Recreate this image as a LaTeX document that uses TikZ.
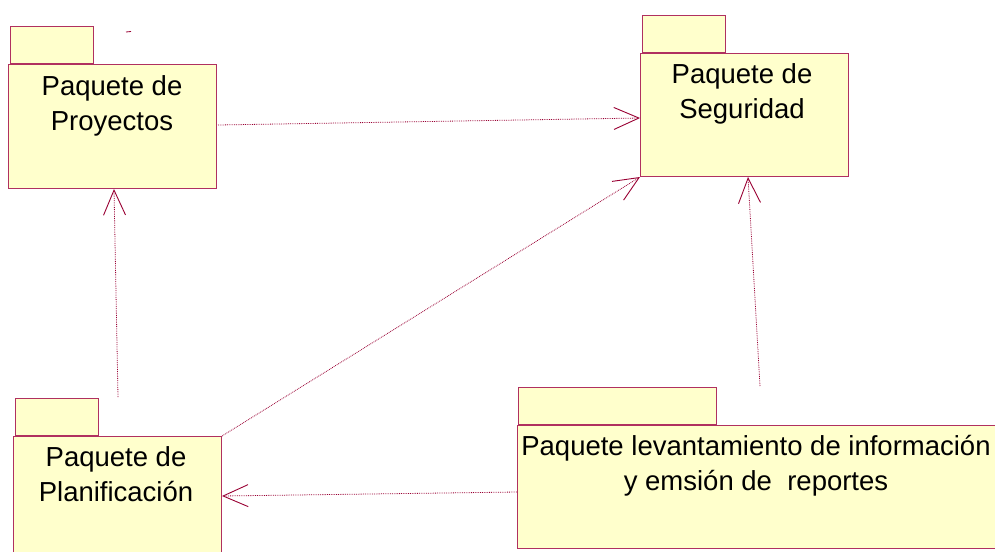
\documentclass[tikz,border=0pt]{standalone}
\usepackage{fontspec}
\setmainfont{Liberation Sans}
\usetikzlibrary{arrows.meta}
\definecolor{pkgfill}{HTML}{FFFFCC}
\definecolor{pkgline}{HTML}{B03060}
\definecolor{depline}{HTML}{990033}
\tikzset{
  pkgbody/.style={draw=pkgline, fill=pkgfill, line width=1pt, inner sep=0pt, anchor=north west},
  pkgtab/.style={draw=pkgline, fill=pkgfill, line width=1pt, inner sep=0pt, anchor=south west, minimum width=83pt, minimum height=37pt},
  pkglabel/.style={align=center, anchor=base, inner sep=0pt, font=\fontsize{27.5}{35}\selectfont},
  dep/.style={draw=depline, line width=0.8pt, densely dotted, -{Straight Barb[length=25pt,width=22pt,line width=0.9pt]}}
}
\begin{document}
\begin{tikzpicture}[x=1pt,y=-1pt]
\useasboundingbox (0,0) rectangle (995,551);
% Paquete de Proyectos
\node[pkgtab] (proytab) at (10,64) {};
\node[pkgbody, minimum width=208pt, minimum height=124pt] (proy) at (8,64) {};
\node[pkglabel] (proytxt) at (112,130) {Paquete de\\Proyectos};
% Paquete de Seguridad
\node[pkgtab] (segtab) at (642,53) {};
\node[pkgbody, minimum width=208pt, minimum height=123pt] (seg) at (640,53) {};
\node[pkglabel] (segtxt) at (742,118) {Paquete de\\Seguridad};
% Paquete de Planificacion
\node[pkgtab] (plantab) at (15,436) {};
\node[pkgbody, minimum width=208pt, minimum height=130pt] (plan) at (13,436) {};
\node[pkglabel] (plantxt) at (116,501) {Paquete de\\Planificación};
% Paquete levantamiento
\node[pkgtab, minimum width=198pt] (levtab) at (518,425) {};
\node[pkgbody, minimum width=490pt, minimum height=123pt] (lev) at (517,425) {};
\node[pkglabel] (levtxt) at (756,490) {Paquete levantamiento de información\\y emsión de\ \ reportes};
% stray mark
\draw[draw=depline, line width=0.8pt] (126,32) -- (131,31.5);
% connectors
\coordinate (c1) at (218,125);
\coordinate (c1e) at (640,118);
\draw[dep] (c1) -- (c1e);
\coordinate (c2) at (118,397);
\coordinate (c2e) at (114,189);
\draw[dep] (c2) -- (c2e);
\draw[dep] (plan.north east) -- (seg.south west);
\coordinate (c4) at (760,386);
\coordinate (c4e) at (748,177);
\draw[dep] (c4) -- (c4e);
\coordinate (c5) at (517,492);
\coordinate (c5e) at (222,496);
\draw[dep] (c5) -- (c5e);
\end{tikzpicture}
\end{document}
